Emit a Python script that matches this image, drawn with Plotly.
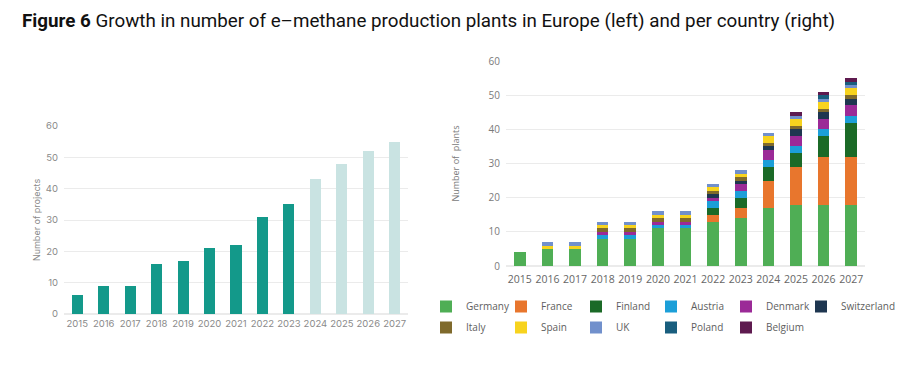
import plotly.graph_objects as go

years = ["2015", "2016", "2017", "2018", "2019", "2020", "2021", "2022", "2023", "2024", "2025", "2026", "2027"]
projects = [6, 9, 9, 16, 17, 21, 22, 31, 35, 43, 48, 52, 55]
projected_from = "2024"

countries = ["Germany", "France", "Finland", "Austria", "Denmark", "Switzerland",
             "Italy", "Spain", "UK", "Poland", "Belgium"]
germany     = [4, 5, 5, 8, 8, 11, 11, 13, 14, 17, 18, 18, 18]
france      = [0, 0, 0, 0, 0, 0, 0, 2, 3, 8, 11, 14, 14]
finland     = [0, 0, 0, 0, 0, 0, 0, 2, 3, 4, 4, 6, 10]
austria     = [0, 0, 0, 1, 1, 1, 1, 2, 2, 2, 2, 2, 2]
denmark     = [0, 0, 0, 1, 1, 1, 1, 1, 2, 3, 3, 3, 3]
switzerland = [0, 0, 0, 0, 0, 0, 0, 1, 1, 1, 2, 2, 2]
italy       = [0, 0, 0, 1, 1, 1, 1, 1, 1, 1, 1, 1, 1]
spain       = [0, 1, 1, 1, 1, 1, 1, 1, 1, 2, 2, 2, 2]
uk          = [0, 1, 1, 1, 1, 1, 1, 1, 1, 1, 1, 1, 1]
poland      = [0, 0, 0, 0, 0, 0, 0, 0, 0, 0, 0, 1, 1]
belgium     = [0, 0, 0, 0, 0, 0, 0, 0, 0, 0, 1, 1, 1]
series = [germany, france, finland, austria, denmark, switzerland, italy, spain, uk, poland, belgium]
colors = ["#4FAE55", "#E8762D", "#1B6A27", "#1C9FD8", "#9B2A97", "#1E3650",
          "#7F6A2C", "#F7D31E", "#7190CC", "#195E7E", "#5E1A4F"]

# page body has an 8px margin: figure is drawn at offset (8, 8)
OFF = 8
W, H = 916 - OFF, 367 - OFF
def px_x(p): return (p - OFF) / W
def px_y(p): return (H - (p - OFF)) / H

fig = go.Figure()

bar_colors = ["#13998A" if int(y) < int(projected_from) else "#C9E3E2" for y in years]
fig.add_trace(go.Bar(x=years, y=projects, marker=dict(color=bar_colors, line=dict(width=0)),
                     xaxis="x", yaxis="y", showlegend=False))

n_cols = 6
legend_ids = ["legend" if k == 0 else f"legend{k + 1}" for k in range(n_cols)]
for i, (name, vals, c) in enumerate(zip(countries, series, colors)):
    fig.add_trace(go.Bar(x=years, y=vals, name=name, marker=dict(color=c, line=dict(width=0)),
                         xaxis="x2", yaxis="y2", legend=legend_ids[i % n_cols], legendgroup=name))

grid = "#EBEBEB"
left_font = dict(family="Inter, Open Sans, sans-serif", size=9.5, color="#8A8A8A")
right_font = dict(family="Open Sans, sans-serif", size=10, color="#7A7A7A")

col_centers = [453, 528, 603, 678, 753, 828]
legends = {}
for k, lid in enumerate(legend_ids):
    legends[lid] = dict(orientation="v", x=px_x(col_centers[k] - 27), y=px_y(292),
                        xanchor="left", yanchor="top", traceorder="grouped", tracegroupgap=2,
                        bgcolor="rgba(0,0,0,0)",
                        font=dict(family="Open Sans, sans-serif", size=10, color="#5E5E5E"))

fig.update_layout(
    width=W, height=H,
    margin=dict(l=0, r=0, t=0, b=0, autoexpand=False),
    paper_bgcolor="white", plot_bgcolor="white",
    barmode="stack", bargap=0.58,
    font=dict(family="Open Sans, sans-serif"),
    xaxis=dict(domain=[px_x(64), px_x(408)], type="category", showgrid=False,
               showline=False, ticks="", tickfont=left_font, tickangle=0, anchor="y",
               ticklabelstandoff=2),
    yaxis=dict(domain=[px_y(314), px_y(126)], range=[0, 60], dtick=10,
               gridcolor=grid, gridwidth=1, zeroline=True, zerolinecolor=grid,
               showline=False, ticks="", tickfont=left_font, anchor="x", ticklabelstandoff=5,
               title=dict(text="Number of projects", font=dict(family="Inter, Open Sans, sans-serif", size=9, color="#8A8A8A"), standoff=3)),
    xaxis2=dict(domain=[px_x(506), px_x(865)], type="category", showgrid=False,
                showline=False, ticks="", tickangle=0, ticklabelstandoff=5,
                tickfont=dict(family="Open Sans, sans-serif", size=10.5, color="#666"), anchor="y2"),
    yaxis2=dict(domain=[px_y(266), px_y(61)], range=[0, 60], dtick=10,
                gridcolor=grid, gridwidth=1, zeroline=True, zerolinecolor=grid,
                showline=False, ticks="", tickfont=right_font, anchor="x2", ticklabelstandoff=5,
                title=dict(text="Number of  plants", font=dict(family="Open Sans, sans-serif", size=9, color="#7A7A7A"), standoff=27)),
    showlegend=True,
    **legends,
)

fig.add_annotation(text="<b>Figure 6</b> Growth in number of e\u2013methane production plants in Europe (left) and per country (right)",
                   xref="paper", yref="paper", x=px_x(20), y=px_y(21), xanchor="left", yanchor="middle",
                   showarrow=False, font=dict(family="Liberation Sans Narrow, Roboto, sans-serif", size=18.8, color="#111"))

fig.write_html("out.html")
